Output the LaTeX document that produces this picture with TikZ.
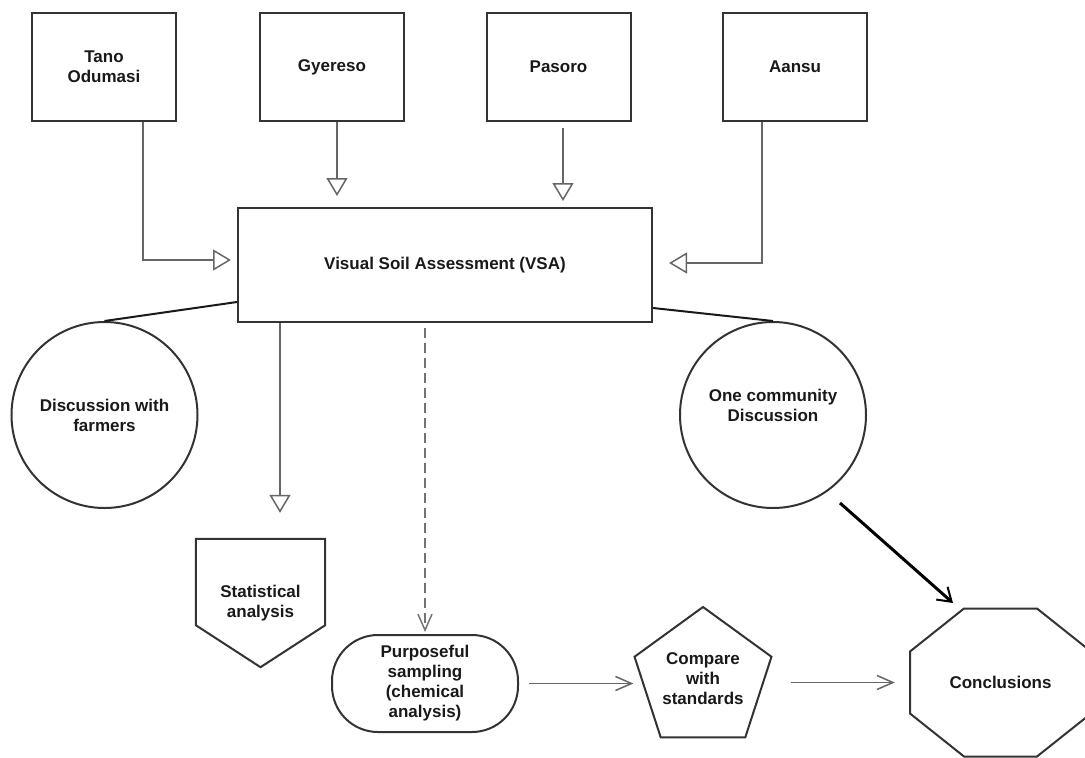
\documentclass[tikz,border=0pt]{standalone}
\usepackage{fontspec}
\setmainfont{Liberation Sans}
\usetikzlibrary{arrows.meta,calc,shapes.geometric}
\begin{document}
\begin{tikzpicture}[x=1pt,y=-1pt,
  font=\fontsize{17}{20}\selectfont\bfseries,
  txt/.style={text=black!90, align=center, inner sep=0pt},
  outl/.style={draw=black!80, line width=2pt},
  box/.style={txt, outl, minimum width=144pt, minimum height=108pt},
  circ/.style={txt, outl, circle, minimum size=186pt},
  conn/.style={draw=black!60, line width=1.5pt},
  tri/.style={conn, -{Triangle[open, length=18pt, width=21pt]}},
  varrow/.style={conn, -{Straight Barb[length=16pt, width=14pt]}},
  dashv/.style={conn, draw=black!55, dash pattern=on 10pt off 5pt, -{Straight Barb[length=16pt, width=14pt]}},
  dline/.style={draw=black!90, line width=2pt},
  bigarrow/.style={draw=black, line width=3pt, -{Straight Barb[length=13pt, width=17pt, line width=2pt]}}
]
\useasboundingbox (0,0) rectangle (1085,758);

% top boxes
\node[box] (tano) at (104,67) {Tano\\Odumasi};
\node[box] (gy) at (332,67) {Gyereso};
\node[box] (pa) at (558.5,67) {Pasoro};
\node[box] (aa) at (795,67) {Aansu};

% central box
\node[box, minimum width=414pt, minimum height=114pt] (vsa) at (445,265) {Visual Soil Assessment (VSA)};

% circles
\node[circ] (disc) at (104.5,415) {Discussion with\\farmers};
\node[circ] (comm) at (773,415) {};
\node[txt] (commtxt) at (773,405) {One community\\Discussion};

% statistical analysis (shield)
\node[txt, minimum width=129pt, minimum height=128pt] (stat) at (260.5,603) {Statistical\\analysis};
\draw[outl] (stat.north west) -- (stat.north east) -- ($(stat.south east)+(0,-42)$)
  -- (stat.south) -- ($(stat.south west)+(0,-42)$) -- cycle;

% purposeful sampling (stadium)
\node[txt, outl, rounded corners=46pt, minimum width=186pt, minimum height=97pt] (samp) at (425,683.5)
  {Purposeful\\sampling\\(chemical\\analysis)};

% compare with standards (pentagon)
\node[txt, outl, regular polygon, regular polygon sides=5, minimum size=144pt] (comp) at (703,679)
  {Compare\\with\\standards};

% conclusions (octagon)
\node[txt, minimum width=181pt, minimum height=148pt] (conc) at (1000.5,682.5) {Conclusions};
\draw[outl] ($(conc.center)+(-36.5,-74)$) -- ($(conc.center)+(36.5,-74)$)
  -- ($(conc.center)+(90.5,-31)$) -- ($(conc.center)+(90.5,31)$)
  -- ($(conc.center)+(36.5,74)$) -- ($(conc.center)+(-36.5,74)$)
  -- ($(conc.center)+(-90.5,31)$) -- ($(conc.center)+(-90.5,-31)$) -- cycle;

% connectors
\draw[tri] ([xshift=39pt]tano.south) |- ([xshift=-6pt,yshift=5pt]vsa.west);
\draw[tri] ([xshift=5pt]gy.south) -- ([xshift=-108pt,yshift=11pt]vsa.north);
\draw[tri] ([xshift=4.5pt,yshift=-6pt]pa.south) -- ([xshift=118pt,yshift=6pt]vsa.north);
\draw[tri] ([xshift=-33pt]aa.south) |- ([xshift=16pt,yshift=2pt]vsa.east);
\draw[dline] ([yshift=-37pt]vsa.west) -- (disc.north);
\draw[dline] ([yshift=-43pt]vsa.east) -- (comm.north);
\draw[tri] ([xshift=-165pt]vsa.south) -- ([xshift=19.5pt,yshift=26pt]stat.north);
\draw[dashv] ([xshift=-20pt,yshift=-5pt]vsa.south) -- ([yshift=2pt]samp.north);
\draw[varrow] ([xshift=10pt]samp.east) -- (samp.east -| comp.corner 2);
\draw[varrow] ($(comp.corner 5 |- conc.west)+(18,0)$) -- ($(conc.west)+(-15,0)$);
\draw[bigarrow] ($(comm.center)+(67,88)$) -- ($(conc.center)+(-47.5,-79.5)$);
\end{tikzpicture}
\end{document}
